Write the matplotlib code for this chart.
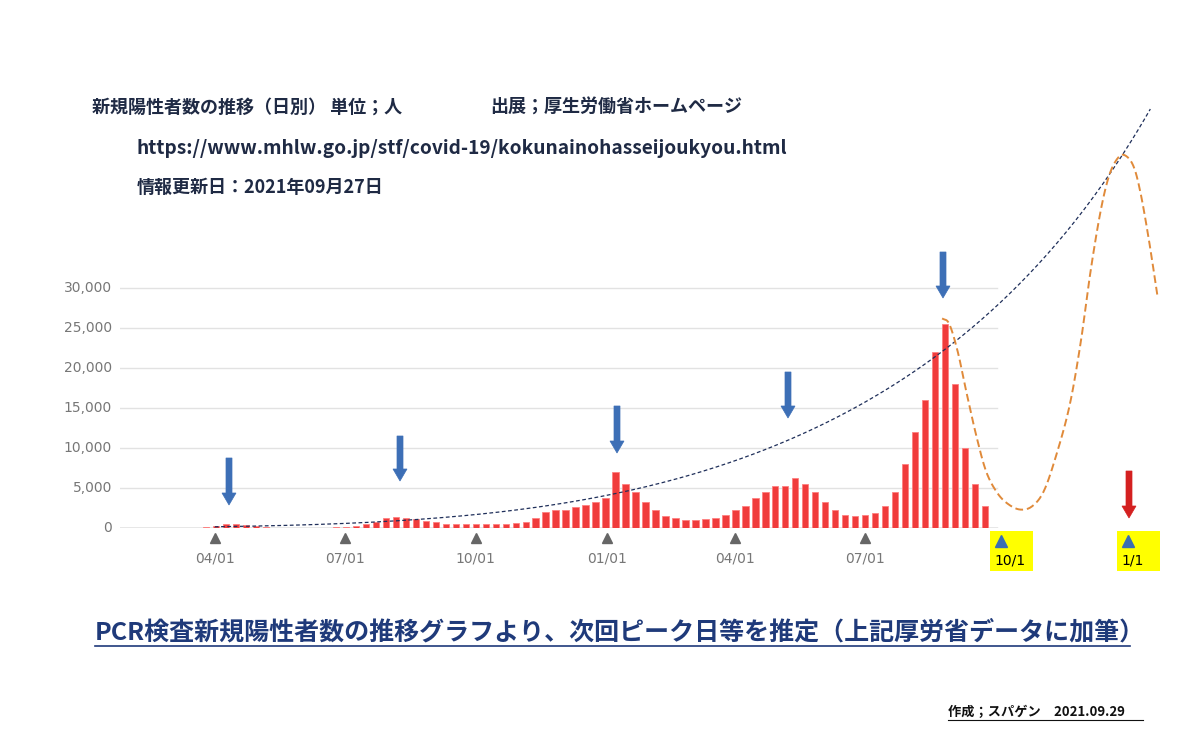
import numpy as np
import matplotlib
matplotlib.use("Agg")
import matplotlib.pyplot as plt
from matplotlib.patches import Rectangle, FancyArrow

plt.rcParams['font.family'] = ['Noto Sans CJK JP', 'DejaVu Sans']

# weekly new cases; first week starts 2020-01-20 (day 19 counted from 2020-01-01)
start_day = 19
weekly_cases = [5, 5,
    10, 10, 15, 20,
    40, 50, 60, 150, 300,
    500, 550, 400, 250,
    150, 60, 40, 40,
    40, 50, 50, 80, 150,
    300, 550, 800, 1200,
    1400, 1300, 1100, 900, 700,
    550, 550, 500, 500,
    550, 550, 550, 650,
    800, 1300, 2000, 2200, 2300,
    2600, 2900, 3200, 3800,
    7000, 5500, 4500, 3200,
    2200, 1500, 1200, 1000,
    1000, 1100, 1200, 1600, 2200,
    2800, 3800, 4500, 5200,
    5200, 6300, 5500, 4500, 3200,
    2300, 1600, 1500, 1600,
    1900, 2800, 4500, 8000,
    12000, 16000, 22000, 25500, 18000,
    10000, 5500, 2800]

trend_days = [91, 182, 274, 366, 457, 547, 602, 650, 700, 747]
trend_vals = [150, 600, 1800, 3900, 7600, 16000, 23500, 31000, 40000, 50000]

fc_days = [601, 606, 612, 618, 625, 632, 640, 648, 656, 664, 672, 680, 690, 698, 705, 712, 718, 724, 729, 735, 740, 746, 752]
fc_vals = [26200, 25500, 22000, 17000, 11500, 7000, 4300, 2900, 2300, 2700, 4500, 8500, 15000, 23000, 32000, 39500, 44000, 46200, 46600, 45300, 42000, 36000, 29000]

yticks = [0, 5000, 10000, 15000, 20000, 25000, 30000]
xtick_days = [91, 182, 274, 366, 456, 547]
xtick_labels = ["04/01", "07/01", "10/01", "01/01", "04/01", "07/01"]


def catmull(xs, ys, n=12):
    xs = np.asarray(xs, float); ys = np.asarray(ys, float)
    px = np.concatenate([[2 * xs[0] - xs[1]], xs, [2 * xs[-1] - xs[-2]]])
    py = np.concatenate([[2 * ys[0] - ys[1]], ys, [2 * ys[-1] - ys[-2]]])
    ox, oy = [], []
    t = np.linspace(0, 1, n, endpoint=False)
    for i in range(1, len(px) - 2):
        for arr, out in ((px, ox), (py, oy)):
            p0, p1, p2, p3 = arr[i - 1], arr[i], arr[i + 1], arr[i + 2]
            out.extend(0.5 * ((2 * p1) + (-p0 + p2) * t + (2 * p0 - 5 * p1 + 4 * p2 - p3) * t ** 2
                              + (-p0 + 3 * p1 - 3 * p2 + p3) * t ** 3))
    ox.append(xs[-1]); oy.append(ys[-1])
    return ox, oy


fig = plt.figure(figsize=(12, 7.55), dpi=100)
ax = fig.add_axes([0.1, 1 - 528 / 755, 1060 / 1200, 420 / 755])
ax.set_xlim(24.5, 767.8)
ax.set_ylim(0, 52500)
ax.axis('off')

for v in yticks:
    ax.plot([24.5, 639.5], [v, v], color='#888888' if v == 0 else '#e2e2e2', lw=1, zorder=1)
    ax.text(19, v, f"{v:,}", ha='right', va='center', color='#777777', fontsize=10, family='DejaVu Sans')

days = start_day + 7 * np.arange(len(weekly_cases))
ax.bar(days + 3, weekly_cases, width=4.5, color='#f03c3c', edgecolor='#ff8080', lw=0.6, zorder=2)

for d, lab in zip(xtick_days, xtick_labels):
    ax.plot([d], [-1250], marker='^', color='#666666', ms=7, clip_on=False)
    ax.text(d, -3000, lab, ha='center', va='top', color='#777777', fontsize=10, family='DejaVu Sans')

c = np.polyfit(trend_days, np.log(trend_vals), 3)
td = np.linspace(91, 747, 300)
ax.plot(td, np.exp(np.polyval(c, td)), ls=(0, (3, 2)), color='#1f2f5a', lw=0.9, zorder=3)
sx, sy = catmull(fc_days, fc_vals)
ax.plot(sx, sy, ls=(0, (4, 2)), color='#e08a3a', lw=1.4, zorder=3)

# overlay in pixel coordinates
ov = fig.add_axes([0, 0, 1, 1])
ov.set_xlim(0, 1200)
ov.set_ylim(755, 0)
ov.axis('off')
ov.patch.set_alpha(0)

navy = '#1f2a44'
ov.text(92, 107, "新規陽性者数の推移（日別） 単位；人", fontsize=13, weight='bold', color=navy, va='center')
ov.text(490, 107, "出展；厚生労働省ホームページ", fontsize=13, weight='bold', color=navy, va='center')
ov.text(137, 148, "https://www.mhlw.go.jp/stf/covid-19/kokunainohasseijoukyou.html", fontsize=13.8, weight='bold', color=navy, va='center')
ov.text(137, 187, "情報更新日：2021年09月27日", fontsize=13, weight='bold', color=navy, va='center')

ov.text(95, 632, "PCR検査新規陽性者数の推移グラフより、次回ピーク日等を推定（上記厚労省データに加筆）",
        fontsize=18, weight='bold', color='#1f3a7a', va='center')
ov.plot([95, 1130], [646, 646], color='#1f3a7a', lw=1.2)
ov.text(948, 712, "作成；スパゲン　2021.09.29", fontsize=9.5, weight='bold', color='#111111', va='center')
ov.plot([948, 1143], [720, 720], color='#111111', lw=0.8)

for x0, lab in [(990, "10/1"), (1117, "1/1")]:
    ov.add_patch(Rectangle((x0, 531), 43, 40, facecolor='#ffff00', edgecolor='none'))
    ov.plot([x0 + 11], [541], marker='^', color='#3a6db3', ms=8)
    ov.text(x0 + 4, 561, lab, fontsize=10, color='black', va='center', family='DejaVu Sans')


def arrow(x, y0, y1, col):
    ov.add_patch(FancyArrow(x, y0, 0, y1 - y0, width=6, head_width=14, head_length=12,
                            length_includes_head=True, facecolor=col, edgecolor=col, lw=0.5))


for x, y0, y1 in [(229, 458, 505), (400, 436, 481), (617, 406, 453), (788, 372, 418), (943, 252, 298)]:
    arrow(x, y0, y1, '#3d6fb6')
arrow(1129, 471, 518, '#d42020')

fig.savefig('out.png', dpi=100)
